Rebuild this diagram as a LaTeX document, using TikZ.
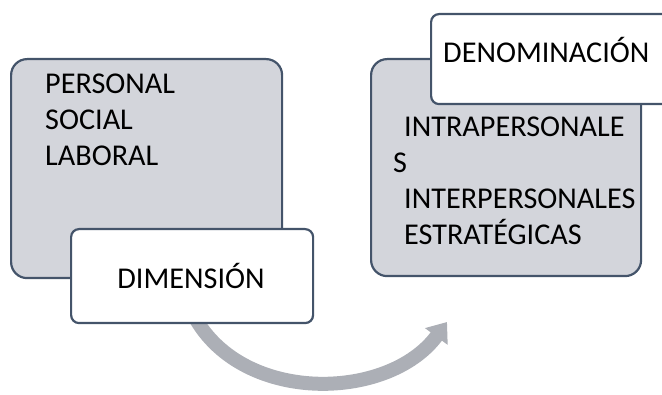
\documentclass[tikz,border=0pt]{standalone}
\usepackage{fontspec}
\setmainfont{Carlito}
\usetikzlibrary{arrows.meta}
\usetikzlibrary{positioning}
\definecolor{mgray}{RGB}{211, 213, 219}
\definecolor{mslate}{RGB}{68, 84, 106}
\definecolor{marrow}{RGB}{172, 175, 182}
\tikzset{graybox/.style = {draw = mslate, line width = 2.2pt, fill = mgray, rounded corners = 16pt, inner sep = 0, anchor = north west}}
\tikzset{whitebox/.style = {draw = mslate, line width = 2.2pt, fill = white, rounded corners = 8pt, inner sep = 0, anchor = north west}}
\tikzset{boxtext/.style = {inner sep = 0, align = left, font = \fontsize{30.2}{36}\selectfont}}
\tikzset{arrowline/.style = {marrow, line width = 14pt, -{Triangle[width = 27pt, length = 18pt]}}}

\begin{document}
\begin{tikzpicture}[x = 1pt, y = -1pt]
    \useasboundingbox (0, 0) rectangle (662, 395);
    \clip (0, 0) rectangle (662, 395);

    \coordinate (arcstart) at (192, 312);
    \coordinate (arctip) at (447, 322);
    \draw [arrowline] (arcstart) .. controls (238, 405) and (388, 402) .. (arctip);

    \node [graybox, minimum width = 271pt, minimum height = 219pt] (dimback) at (10, 58) {};
    \node [boxtext, anchor = base west] (dimlist) at (45, 166) {PERSONAL\\SOCIAL\\LABORAL};
    \node [whitebox, minimum width = 242pt, minimum height = 94pt] (dim) at (70, 228) {};
    \node [boxtext, anchor = base] (dimtext) at (191, 289) {DIMENSIÓN};

    \node [graybox, minimum width = 270pt, minimum height = 217pt] (denback) at (370, 58) {};
    \node [boxtext, anchor = base west] (denlist) at (393, 245)
      {\hspace*{11pt}INTRAPERSONALE\\S\\\hspace*{11pt}INTERPERSONALES\\\hspace*{11pt}ESTRATÉGICAS};
    \node [whitebox, minimum width = 270pt, minimum height = 90pt] (den) at (430, 13) {};
    \node [boxtext, anchor = base west] (dentext) at (443, 63) {DENOMINACIÓN};
  \end{tikzpicture}
\end{document}
